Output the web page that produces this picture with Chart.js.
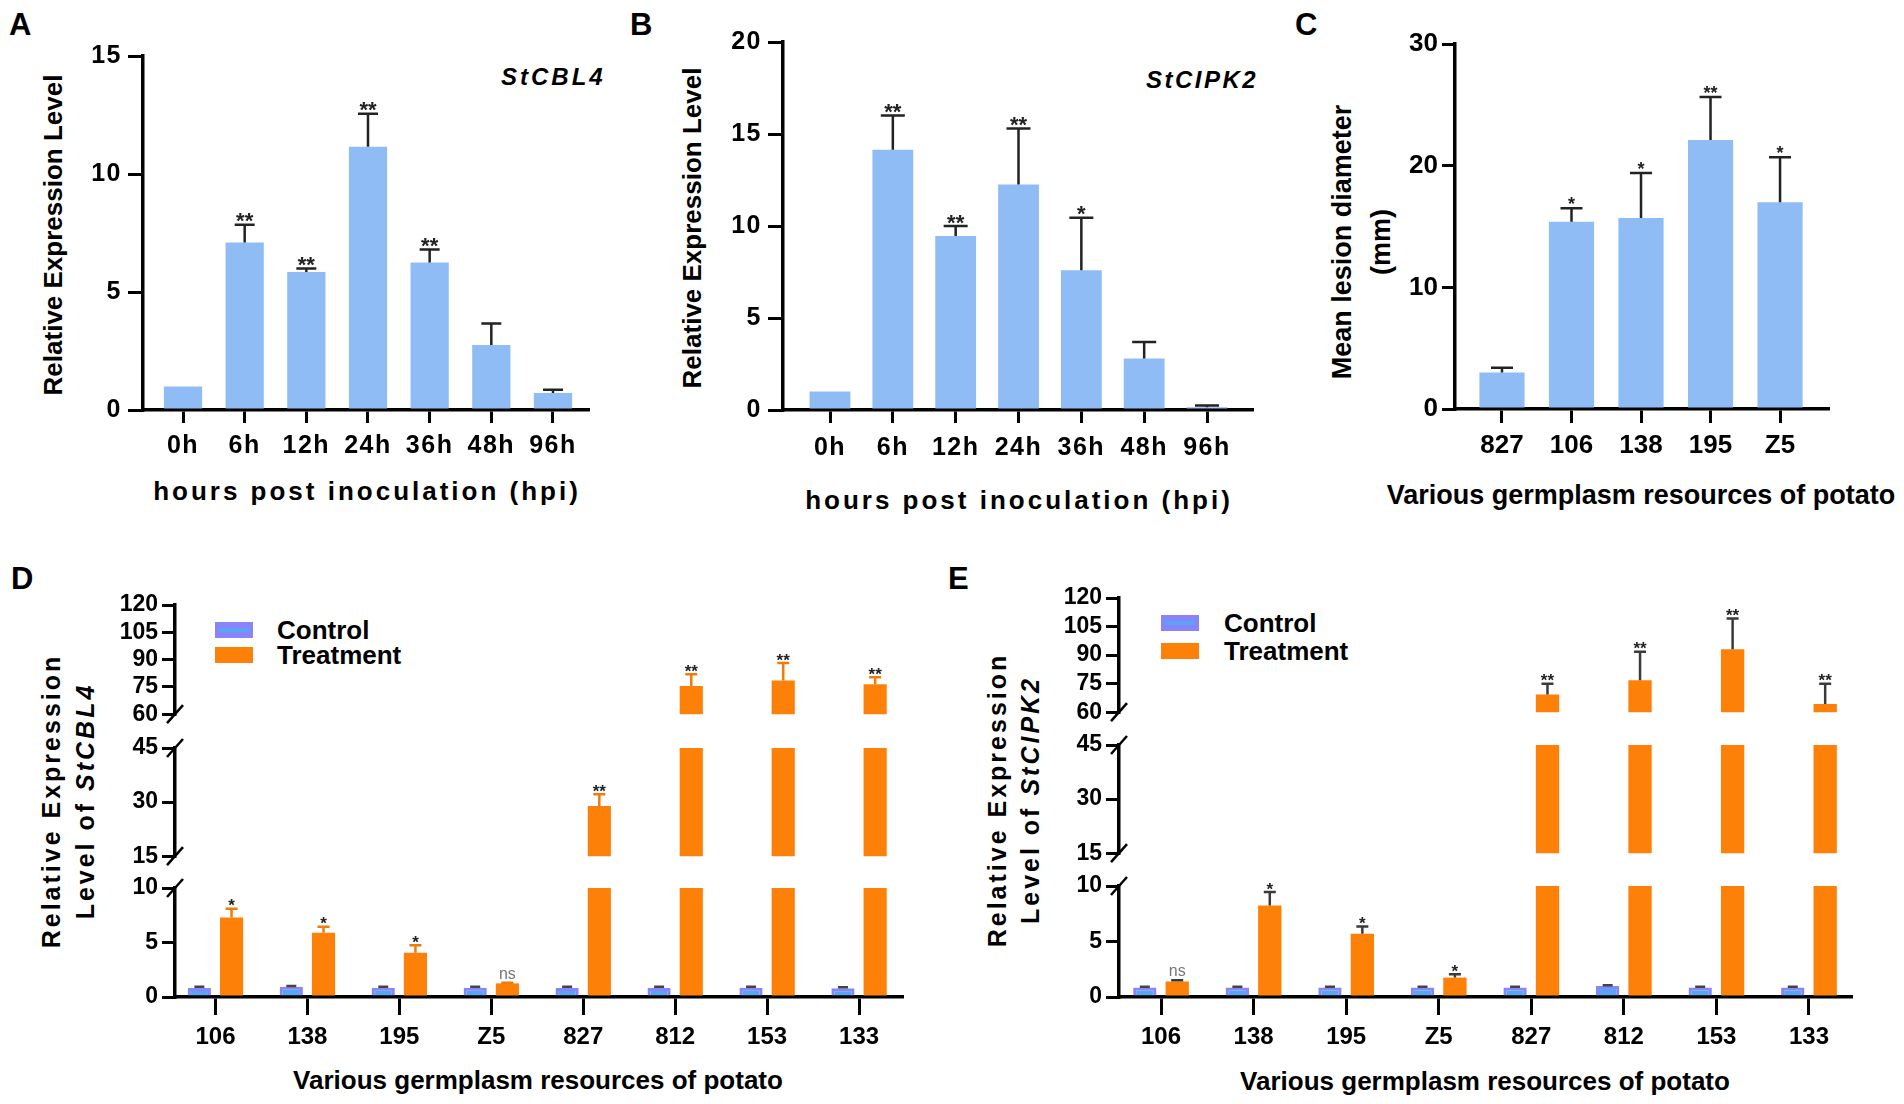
<!DOCTYPE html>
<html>
<head>
<meta charset="utf-8">
<title>StCBL4 / StCIPK2 expression and lesion diameter</title>
<script src="https://cdn.jsdelivr.net/npm/chart.js@4.4.1/dist/chart.umd.min.js"></script>
<style>
  body { margin: 0; background: #fff; }
  #fig { position: relative; width: 1904px; height: 1104px; overflow: hidden; background: #fff;
         font-family: "Liberation Sans", Arial, sans-serif; color: #000; }
  #fig canvas { position: absolute; }
  .txt { position: absolute; white-space: nowrap; font-weight: bold; line-height: 1; }
  .ctr { transform: translateX(-50%); }
  .rot { position: absolute; white-space: nowrap; font-weight: bold; text-align: center;
         transform: translate(-50%, -50%) rotate(-90deg); }
  .sw { position: absolute; width: 38px; height: 16px; }
</style>
</head>
<body>
<div id="fig">
  <div class="txt" style="left:9px;top:9px;font-size:31px">A</div>
  <div class="txt" style="left:630px;top:9px;font-size:31px">B</div>
  <div class="txt" style="left:1295px;top:9px;font-size:31px">C</div>
  <div class="txt" style="left:11px;top:563px;font-size:31px">D</div>
  <div class="txt" style="left:948px;top:563px;font-size:31px">E</div>

  <div class="rot" style="left:53px;top:235px;font-size:26px">Relative Expression Level</div>
  <div class="txt ctr" style="left:367px;top:478px;font-size:26px;letter-spacing:3px">hours post inoculation (hpi)</div>
  <div class="txt" style="left:501px;top:65px;font-size:24px;letter-spacing:3px;font-style:italic">StCBL4</div>

  <div class="rot" style="left:692px;top:228px;font-size:26px">Relative Expression Level</div>
  <div class="txt ctr" style="left:1019px;top:487px;font-size:26px;letter-spacing:3px">hours post inoculation (hpi)</div>
  <div class="txt" style="left:1146px;top:68px;font-size:24px;letter-spacing:2.5px;font-style:italic">StCIPK2</div>

  <div class="rot" style="left:1362px;top:242px;font-size:27px;line-height:39px">Mean lesion diameter<br>(mm)</div>
  <div class="txt ctr" style="left:1641px;top:482px;font-size:27px">Various germplasm resources of potato</div>

  <div class="rot" style="left:68px;top:801px;font-size:25px;line-height:34px;letter-spacing:3px">Relative Expression<br>Level of <i>StCBL4</i></div>
  <div class="txt ctr" style="left:538px;top:1067px;font-size:26px">Various germplasm resources of potato</div>
  <div class="sw" style="left:215px;top:622px;background:#8a84fb"><div style="margin:6px 4px 0;height:4px;background:#58a6f3"></div></div>
  <div class="sw" style="left:215px;top:647px;background:#fd8008"></div>
  <div class="txt" style="left:277px;top:617px;font-size:26px">Control</div>
  <div class="txt" style="left:277px;top:642px;font-size:26px">Treatment</div>

  <div class="rot" style="left:1014px;top:800px;font-size:25px;line-height:33px;letter-spacing:3px">Relative Expression<br>Level of <i>StCIPK2</i></div>
  <div class="txt ctr" style="left:1485px;top:1068px;font-size:26px">Various germplasm resources of potato</div>
  <div class="sw" style="left:1161px;top:615px;background:#8a84fb"><div style="margin:6px 4px 0;height:4px;background:#58a6f3"></div></div>
  <div class="sw" style="left:1161px;top:643px;background:#fd8008"></div>
  <div class="txt" style="left:1224px;top:610px;font-size:26px">Control</div>
  <div class="txt" style="left:1224px;top:638px;font-size:26px">Treatment</div>
</div>
<script>
// ---- data ----
const hpiLabels = ['0h', '6h', '12h', '24h', '36h', '48h', '96h'];

const cbl4Mean = [1.0, 7.1, 5.85, 11.15, 6.25, 2.75, 0.72];
const cbl4Sd   = [0, 0.75, 0.15, 1.4, 0.55, 0.92, 0.14];
const cbl4Sig  = ['', '**', '**', '**', '**', '', ''];

const cipk2Mean = [1.0, 14.15, 9.45, 12.25, 7.6, 2.8, 0.15];
const cipk2Sd   = [0, 1.85, 0.55, 3.05, 2.85, 0.9, 0.1];
const cipk2Sig  = ['', '**', '**', '**', '*', '', ''];

const lesionLabels = ['827', '106', '138', '195', 'Z5'];
const lesionMean = [3.0, 15.4, 15.7, 22.1, 17.0];
const lesionSd   = [0.4, 1.1, 3.7, 3.55, 3.7];
const lesionSig  = ['', '*', '*', '**', '*'];

const germLabels = ['106', '138', '195', 'Z5', '827', '812', '153', '133'];

const cbl4CtrlMean = [0.83, 0.95, 0.85, 0.85, 0.83, 0.83, 0.85, 0.8];
const cbl4CtrlSd   = [0.1, 0.05, 0.1, 0.1, 0.1, 0.1, 0.08, 0.1];
const cbl4TrtMean  = [7.3, 5.9, 4.05, 1.25, 28.9, 75.5, 78.5, 76.5];
const cbl4TrtSd    = [0.8, 0.55, 0.7, 0.05, 3.3, 6.4, 9.6, 3.8];
const cbl4TrtSig   = ['*', '*', '*', 'ns', '**', '**', '**', '**'];

const cipk2CtrlMean = [0.85, 0.85, 0.85, 0.85, 0.85, 1.0, 0.85, 0.85];
const cipk2CtrlSd   = [0.08, 0.08, 0.08, 0.08, 0.08, 0.05, 0.08, 0.08];
const cipk2TrtMean  = [1.4, 8.25, 5.7, 1.75, 69.3, 76.8, 93.1, 64.3];
const cipk2TrtSd    = [0.1, 1.2, 0.65, 0.3, 5.7, 15.0, 16.1, 10.7];
const cipk2TrtSig   = ['ns', '*', '*', '*', '**', '**', '**', '**'];

// broken y axis of D and E: [min, max, step]
const brokenRanges = [[60, 120, 15], [15, 45, 15], [0, 10, 5]];

// ---- styling ----
const BLUE = '#8fbcf5';
const CTRL_FILL = '#58a6f3';
const CTRL_EDGE = '#8a84fb';
const ORANGE = '#fd8008';
const FAM = "'Liberation Sans', Arial, sans-serif";

Chart.defaults.font.family = FAM;
Chart.defaults.color = '#000';

const fig = document.getElementById('fig');

function pts(arr) {
  return arr.map((v, i) => ({ x: i, y: v }));
}

// error bars, significance marks and axis break slashes
const markPlugin = {
  id: 'marks',
  beforeDraw(chart, args, opts) {
    chart.ctx.letterSpacing = (opts.spacing || 0) + 'px';
  },
  afterDatasetsDraw(chart) {
    const { ctx, chartArea: a, scales: { y } } = chart;
    chart.data.datasets.forEach((ds, di) => {
      const meta = chart.getDatasetMeta(di);
      meta.data.forEach((bar, i) => {
        const v = ds.data[i].y;
        const e = ds.errors ? ds.errors[i] : 0;
        const yv = y.getPixelForValue(v);
        const ye = y.getPixelForValue(v + e);
        if (e > 0) {
          ctx.save();
          ctx.beginPath();
          ctx.rect(a.left, a.top - 2, a.right - a.left, a.bottom - a.top + 2);
          ctx.clip();
          ctx.strokeStyle = ds.errColor;
          ctx.lineWidth = ds.errWidth;
          ctx.beginPath();
          ctx.moveTo(bar.x, yv);
          ctx.lineTo(bar.x, ye);
          ctx.moveTo(bar.x - ds.capW / 2, ye);
          ctx.lineTo(bar.x + ds.capW / 2, ye);
          ctx.stroke();
          ctx.restore();
        }
        const s = ds.sig ? ds.sig[i] : '';
        if (s && v + e <= y.max && v + e >= y.min) {
          ctx.save();
          ctx.letterSpacing = '0px';
          ctx.textAlign = 'center';
          ctx.textBaseline = 'alphabetic';
          if (s === 'ns') {
            ctx.font = ds.nsSize + 'px ' + FAM;
            ctx.fillStyle = '#777';
            ctx.fillText(s, bar.x, ye - 4);
          } else {
            ctx.font = 'bold ' + ds.sigSize + 'px ' + FAM;
            ctx.fillStyle = '#222';
            ctx.fillText(s, bar.x, ye - ds.sigGap + 0.39 * ds.sigSize);
          }
          ctx.restore();
        }
      });
    });
  },
  afterDraw(chart, args, opts) {
    const { ctx, chartArea: a } = chart;
    const ends = [];
    if (opts.breakTop) ends.push(a.top);
    if (opts.breakBottom) ends.push(a.bottom);
    ctx.save();
    ctx.strokeStyle = '#000';
    ctx.lineWidth = 2.5;
    ends.forEach(yy => {
      ctx.beginPath();
      ctx.moveTo(a.left - 8, yy + 9);
      ctx.lineTo(a.left + 8, yy - 9);
      ctx.stroke();
    });
    ctx.restore();
  }
};

function panel(cfg) {
  const Wy = 80, padT = 26, padR = 12, padB = 16;
  const left = cfg.axisX - Wy;
  const top = cfg.yTop - padT;
  const w = cfg.axisEnd - left + padR;
  const h = (cfg.yBot - cfg.yTop) + padT + (cfg.showX ? cfg.xH : padB);
  const c = document.createElement('canvas');
  c.width = w; c.height = h;
  c.style.left = left + 'px'; c.style.top = top + 'px';
  c.style.width = w + 'px'; c.style.height = h + 'px';
  fig.appendChild(c);

  return new Chart(c, {
    type: 'bar',
    data: { datasets: cfg.datasets },
    options: {
      responsive: false,
      animation: false,
      layout: { autoPadding: false, padding: { top: padT, right: padR, bottom: cfg.showX ? 0 : padB, left: 0 } },
      plugins: {
        legend: { display: false },
        tooltip: { enabled: false },
        marks: { spacing: cfg.spacing || 0, breakTop: !!cfg.breakTop, breakBottom: !!cfg.breakBottom }
      },
      scales: {
        x: {
          type: 'linear',
          min: cfg.xMin,
          max: cfg.xMax,
          offset: false,
          display: cfg.showX,
          afterFit: s => { s.height = cfg.showX ? cfg.xH : 0; },
          ticks: {
            stepSize: 1, includeBounds: false, autoSkip: false, maxRotation: 0,
            padding: cfg.xPad, color: '#000',
            font: { size: cfg.xFont, weight: 'bold' },
            callback: v => cfg.labels[Math.round(v)]
          },
          grid: { offset: false, drawOnChartArea: false, tickLength: cfg.xTick, color: '#000', lineWidth: 3 },
          border: { color: '#000', width: 3.5 }
        },
        y: {
          min: cfg.yMin,
          max: cfg.yMax,
          afterFit: s => { s.width = Wy; },
          ticks: {
            stepSize: cfg.yStep, autoSkip: false, padding: cfg.yPad, color: '#000',
            font: { size: cfg.yFont, weight: 'bold' }
          },
          grid: { drawOnChartArea: false, tickLength: cfg.yTick, color: '#000', lineWidth: 3 },
          border: { color: '#000', width: 3.5 }
        }
      }
    },
    plugins: [markPlugin]
  });
}

function singleSet(mean, sd, sig, barPct, capW, sigSize) {
  return [{
    data: pts(mean), backgroundColor: BLUE, borderWidth: 0,
    barPercentage: barPct, categoryPercentage: 1, clip: 0,
    errors: sd, sig: sig, errColor: '#222', errWidth: 2.5, capW: capW,
    sigSize: sigSize, sigGap: 5, nsSize: 15
  }];
}

// A
panel({
  axisX: 143, axisEnd: 588, yTop: 56, yBot: 410,
  xMin: -0.649, xMax: 6.568, yMin: 0, yMax: 15, yStep: 5,
  showX: true, xH: 60, labels: hpiLabels, spacing: 1.5,
  xFont: 25, yFont: 25, xTick: 13, xPad: 8, yTick: 15, yPad: 6,
  datasets: singleSet(cbl4Mean, cbl4Sd, cbl4Sig, 0.62, 20, 22)
});

// B
panel({
  axisX: 783, axisEnd: 1252, yTop: 42, yBot: 410,
  xMin: -0.748, xMax: 6.716, yMin: 0, yMax: 20, yStep: 5,
  showX: true, xH: 60, labels: hpiLabels, spacing: 1.5,
  xFont: 25, yFont: 25, xTick: 13, xPad: 10, yTick: 15, yPad: 6,
  datasets: singleSet(cipk2Mean, cipk2Sd, cipk2Sig, 0.65, 24, 22)
});

// C
panel({
  axisX: 1455, axisEnd: 1828, yTop: 44, yBot: 409,
  xMin: -0.676, xMax: 4.69, yMin: 0, yMax: 30, yStep: 10,
  showX: true, xH: 60, labels: lesionLabels,
  xFont: 26, yFont: 26, xTick: 14, xPad: 7, yTick: 13, yPad: 4,
  datasets: singleSet(lesionMean, lesionSd, lesionSig, 0.65, 22, 18)
});

// D and E: three stacked segments share one x layout
function brokenPanel(p) {
  p.segs.forEach((seg, k) => {
    const r = brokenRanges[k];
    const last = k === p.segs.length - 1;
    panel({
      axisX: p.axisX, axisEnd: p.axisEnd, yTop: seg[0], yBot: seg[1],
      xMin: p.xMin, xMax: p.xMax, yMin: r[0], yMax: r[1], yStep: r[2],
      showX: last, xH: 62, labels: germLabels,
      xFont: 24, yFont: 23, xTick: 18, xPad: 8, yTick: 13, yPad: 4,
      breakTop: k > 0, breakBottom: !last,
      datasets: [
        {
          data: pts(p.ctrl), backgroundColor: CTRL_FILL, borderColor: CTRL_EDGE, borderWidth: 3,
          barPercentage: 0.72, categoryPercentage: 0.7, clip: 0,
          errors: p.ctrlSd, sig: null, errColor: '#444', errWidth: 2.5, capW: 10
        },
        {
          data: pts(p.trt), backgroundColor: ORANGE, borderWidth: 0,
          barPercentage: 0.72, categoryPercentage: 0.7, clip: 0,
          errors: p.trtSd, sig: p.sig, errColor: p.errColor, errWidth: 2.5, capW: 12,
          sigSize: 17, sigGap: 4, nsSize: 16
        }
      ]
    });
  });
}

brokenPanel({
  axisX: 175, axisEnd: 902, xMin: -0.44, xMax: 7.467,
  segs: [[605, 716], [748, 858], [888, 997]],
  ctrl: cbl4CtrlMean, ctrlSd: cbl4CtrlSd, trt: cbl4TrtMean, trtSd: cbl4TrtSd, sig: cbl4TrtSig,
  errColor: '#f07a0a'
});

brokenPanel({
  axisX: 1119, axisEnd: 1851, xMin: -0.454, xMax: 7.454,
  segs: [[598, 714], [745, 855], [886, 997]],
  ctrl: cipk2CtrlMean, ctrlSd: cipk2CtrlSd, trt: cipk2TrtMean, trtSd: cipk2TrtSd, sig: cipk2TrtSig,
  errColor: '#3a3a3a'
});
</script>
</body>
</html>
